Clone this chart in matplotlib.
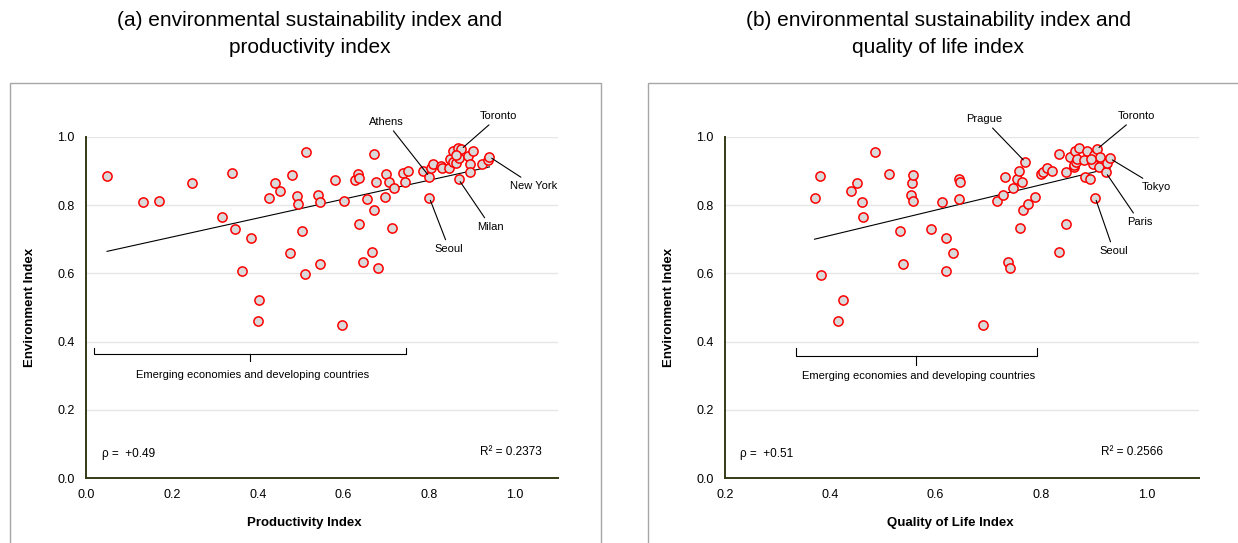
import matplotlib
matplotlib.use("Agg")
import matplotlib.pyplot as plt
from matplotlib.patches import Rectangle

plt.rcParams['font.family'] = ['Liberation Sans', 'DejaVu Sans']

# ---- data ----
# (a) productivity index vs environment index
prod_x = [0.049, 0.133, 0.171, 0.247, 0.317, 0.340, 0.348, 0.363, 0.385, 0.402,
          0.401, 0.427, 0.441, 0.453, 0.475, 0.481, 0.492, 0.494, 0.503, 0.510,
          0.512, 0.541, 0.545, 0.546, 0.579, 0.596, 0.600, 0.627, 0.634, 0.636,
          0.635, 0.645, 0.654, 0.667, 0.672, 0.672, 0.676, 0.680, 0.696, 0.699,
          0.707, 0.712, 0.718, 0.739, 0.743, 0.751, 0.786, 0.800, 0.800, 0.805,
          0.809, 0.827, 0.829, 0.846, 0.848, 0.854, 0.856, 0.862, 0.866, 0.868,
          0.869, 0.874, 0.861, 0.891, 0.895, 0.895, 0.902, 0.923, 0.937, 0.940]
env_a = [0.886, 0.810, 0.813, 0.864, 0.766, 0.895, 0.729, 0.607, 0.704, 0.521,
         0.460, 0.822, 0.866, 0.843, 0.660, 0.889, 0.827, 0.803, 0.725, 0.597,
         0.956, 0.829, 0.809, 0.627, 0.875, 0.448, 0.813, 0.875, 0.892, 0.881,
         0.745, 0.632, 0.817, 0.663, 0.950, 0.785, 0.868, 0.616, 0.824, 0.891,
         0.867, 0.734, 0.850, 0.895, 0.867, 0.899, 0.899, 0.884, 0.822, 0.908,
         0.921, 0.916, 0.908, 0.910, 0.935, 0.958, 0.928, 0.923, 0.967, 0.876,
         0.937, 0.964, 0.947, 0.944, 0.921, 0.896, 0.958, 0.921, 0.933, 0.942]
cities_a = ["Athens", "Toronto", "New York", "Milan", "Seoul"]
city_idx_a = [47, 61, 69, 59, 48]
city_text_a = [(0.700, 1.044), (0.962, 1.061), (1.044, 0.857), (0.943, 0.737), (0.846, 0.672)]
trend_a = (0.278, 0.651)   # slope, intercept
rho_a = "ρ =  +0.49"
r2_a = "R² = 0.2373"

# (b) quality of life index vs environment index
qol_x = [0.370, 0.380, 0.383, 0.415, 0.425, 0.439, 0.450, 0.460, 0.462, 0.485,
         0.512, 0.533, 0.538, 0.554, 0.555, 0.557, 0.557, 0.591, 0.612, 0.620,
         0.620, 0.633, 0.644, 0.646, 0.644, 0.689, 0.717, 0.728, 0.732, 0.738,
         0.742, 0.746, 0.755, 0.759, 0.760, 0.764, 0.766, 0.770, 0.776, 0.788,
         0.800, 0.803, 0.811, 0.821, 0.835, 0.835, 0.848, 0.848, 0.856, 0.862,
         0.863, 0.865, 0.867, 0.869, 0.873, 0.881, 0.884, 0.888, 0.893, 0.898,
         0.901, 0.903, 0.906, 0.911, 0.912, 0.923, 0.925, 0.931, 0.895]
env_b = [0.822, 0.886, 0.596, 0.460, 0.521, 0.843, 0.864, 0.810, 0.766, 0.956,
         0.891, 0.724, 0.627, 0.829, 0.866, 0.890, 0.813, 0.729, 0.810, 0.704,
         0.607, 0.660, 0.876, 0.869, 0.818, 0.448, 0.813, 0.830, 0.882, 0.633,
         0.616, 0.850, 0.877, 0.901, 0.734, 0.869, 0.785, 0.927, 0.803, 0.825,
         0.892, 0.896, 0.910, 0.899, 0.950, 0.663, 0.745, 0.896, 0.940, 0.911,
         0.918, 0.959, 0.928, 0.935, 0.967, 0.933, 0.884, 0.959, 0.877, 0.921,
         0.947, 0.822, 0.964, 0.911, 0.940, 0.896, 0.923, 0.937, 0.935]
cities_b = ["Prague", "Toronto", "Tokyo", "Paris", "Seoul"]
city_idx_b = [37, 62, 67, 65, 61]
city_text_b = [(0.692, 1.052), (0.982, 1.061), (1.020, 0.854), (0.987, 0.751), (0.938, 0.666)]
trend_b = (0.371, 0.563)
rho_b = "ρ =  +0.51"
r2_b = "R² = 0.2566"

bracket_label = "Emerging economies and developing countries"
yticks = [0.0, 0.2, 0.4, 0.6, 0.8, 1.0]

fig = plt.figure(figsize=(12.38, 5.43), dpi=100)

# outer frames around each panel
fig.patches.append(Rectangle((0.0081, -0.02), 0.4774, 0.867, transform=fig.transFigure,
                             fill=False, edgecolor="#a6a6a6", lw=1.0))
fig.patches.append(Rectangle((0.5234, -0.02), 0.49, 0.867, transform=fig.transFigure,
                             fill=False, edgecolor="#a6a6a6", lw=1.0))

fig.text(0.2504, 0.963, "(a) environmental sustainability index and", ha="center", va="center", fontsize=15)
fig.text(0.2504, 0.912, "productivity index", ha="center", va="center", fontsize=15)
fig.text(0.7577, 0.963, "(b) environmental sustainability index and", ha="center", va="center", fontsize=15)
fig.text(0.7577, 0.912, "quality of life index", ha="center", va="center", fontsize=15)

ax_a = fig.add_axes([0.0695, 0.1197, 0.3813, 0.628])
ax_b = fig.add_axes([0.5856, 0.1197, 0.3829, 0.628])

panels = [
    (ax_a, prod_x, env_a, cities_a, city_idx_a, city_text_a, trend_a, rho_a, r2_a,
     (0.0, 1.1), [0.0, 0.2, 0.4, 0.6, 0.8, 1.0], "Productivity Index", 0.462,
     (0.019, 0.745, 0.383, 0.365, 0.344, 0.303), (0.037, 1.063)),
    (ax_b, qol_x, env_b, cities_b, city_idx_b, city_text_b, trend_b, rho_b, r2_b,
     (0.2, 1.1), [0.2, 0.4, 0.6, 0.8, 1.0], "Quality of Life Index", 0.475,
     (0.334, 0.792, 0.563, 0.359, 0.331, 0.299), (0.228, 1.032)),
]

for (ax, xs, ys, cities, cidx, ctext, trend, rho, r2, xlim, xticks, xlabel, xlab_pos,
     br, stat_x) in panels:
    ax.set_xlim(*xlim)
    ax.set_ylim(0, 1.0)
    ax.set_xticks(xticks)
    ax.set_xticklabels(["%.1f" % t for t in xticks])
    ax.set_yticks(yticks)
    ax.set_yticklabels(["%.1f" % t for t in yticks])
    ax.tick_params(length=0, labelsize=9, colors="#000000")
    ax.tick_params(axis="x", pad=8)
    ax.tick_params(axis="y", pad=8)
    for t in yticks[1:]:
        ax.axhline(t, color="#e6e6e6", lw=1.0, zorder=0)
    for s in ["top", "right"]:
        ax.spines[s].set_visible(False)
    for s in ["left", "bottom"]:
        ax.spines[s].set_color("#333a17")
        ax.spines[s].set_linewidth(1.4)

    # trend line over the data range
    x0, x1 = min(xs), max(xs)
    ax.plot([x0, x1], [trend[0] * x0 + trend[1], trend[0] * x1 + trend[1]],
            color="black", lw=0.8, zorder=2)

    ax.scatter(xs, ys, s=44, facecolor="#d9d9d9", edgecolor="#ff0000", linewidth=1.1, zorder=3)

    for name, i, pos in zip(cities, cidx, ctext):
        ax.annotate(name, xy=(xs[i], ys[i]), xytext=pos, ha="center", va="center", fontsize=8,
                    annotation_clip=False,
                    arrowprops=dict(arrowstyle="-", color="black", lw=0.8, shrinkA=1, shrinkB=2))

    # bracket marking emerging economies
    bx0, bx1, bxm, by, bym, bty = br
    ax.plot([bx0, bx0, bx1, bx1], [0.381, by, by, 0.381], color="black", lw=0.8)
    ax.plot([bxm, bxm], [by, bym], color="black", lw=0.8)
    ax.text(bxm + 0.004, bty, bracket_label, ha="center", va="center", fontsize=8)

    ax.text(stat_x[0], 0.069, rho, ha="left", va="center", fontsize=8.5)
    ax.text(stat_x[1], 0.076, r2, ha="right", va="center", fontsize=8.5)

    ax.set_xlabel(xlabel, fontsize=9.5, fontweight="bold")
    ax.xaxis.set_label_coords(xlab_pos, -0.113)
    ax.set_ylabel("Environment Index", fontsize=9.5, fontweight="bold")
    ax.yaxis.set_label_coords(-0.105, 0.5)

fig.savefig("out.png", dpi=100)
